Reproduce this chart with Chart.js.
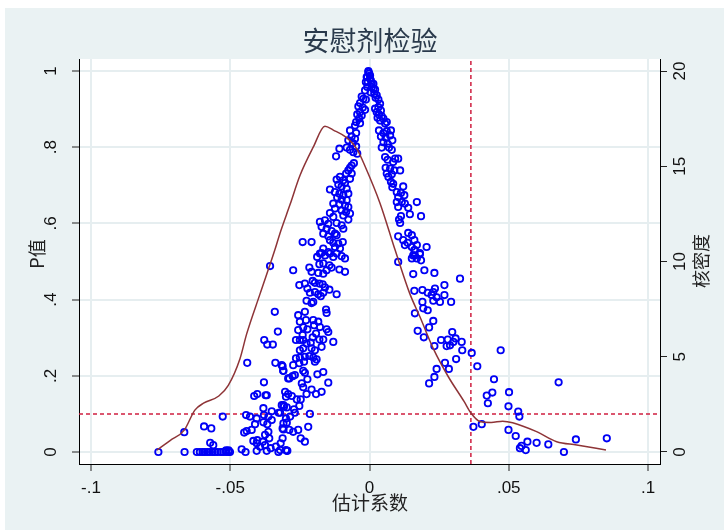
<!DOCTYPE html>
<html>
<head>
<meta charset="utf-8">
<title>安慰剂检验</title>
<script src="https://cdn.jsdelivr.net/npm/chart.js@4.4.0/dist/chart.umd.min.js"></script>
<style>
    html, body { margin: 0; padding: 0; background: #ffffff; }
    #wrap { width: 724px; height: 530px; }
</style>
</head>
<body>
<div id="wrap"><canvas id="placeboChart" width="724" height="530"></canvas></div>
<script>
// placebo estimates: coefficient (x) and its p value (y)
const coefX = [
    // left tail
    -0.0758,-0.0664,-0.0665,-0.0594,-0.0568,-0.0527,-0.0572,-0.0561,
    -0.0620,-0.0609,-0.0599,-0.0591,-0.0582,-0.0573,-0.0563,-0.0555,
    -0.0545,-0.0534,-0.0525,-0.0515,-0.0506,-0.0501,-0.0515,-0.0506,
    -0.0439,-0.0357,-0.0340,-0.0329,-0.0378,-0.0367,-0.0347,-0.0338,
    -0.0312,-0.0310,-0.0292,-0.0379,-0.0414,-0.0403,-0.0373,-0.0369,
    -0.0443,-0.0429,-0.0405,-0.0381,-0.0379,-0.0363,-0.0351,-0.0326,
    -0.0459,-0.0445,-0.0417,-0.0405,-0.0450,-0.0441,-0.0423,-0.0411,
    -0.0381,-0.0367,-0.0351,-0.0393,-0.0383,-0.0375,-0.0369,-0.0360,
    -0.0355,-0.0336,-0.0327,-0.0319,-0.0297,-0.0312,-0.0300,-0.0309,
    -0.0315,-0.0307,-0.0375,-0.0363,-0.0405,-0.0403,
    // left branch, lower half
    -0.0188,-0.0172,-0.0160,-0.0142,-0.0130,-0.0118,-0.0100,-0.0088,
    -0.0144,-0.0166,-0.0180,-0.0136,-0.0108,-0.0088,-0.0274,-0.0216,
    -0.0208,-0.0184,-0.0166,-0.0154,-0.0252,-0.0232,-0.0223,-0.0204,
    -0.0196,-0.0180,-0.0168,-0.0160,-0.0144,-0.0214,-0.0196,-0.0184,
    -0.0175,-0.0166,-0.0118,-0.0226,-0.0208,-0.0202,-0.0156,-0.0154,
    -0.0256,-0.0232,-0.0250,-0.0228,-0.0256,-0.0238,-0.0223,-0.0202,
    -0.0199,-0.0184,-0.0178,-0.0192,-0.0204,-0.0180,-0.0166,-0.0154,
    -0.0148,-0.0130,-0.0240,-0.0250,-0.0238,-0.0226,-0.0211,-0.0208,
    -0.0238,-0.0250,-0.0264,-0.0196,-0.0172,-0.0264,-0.0250,-0.0232,
    -0.0216,-0.0202,-0.0196,-0.0190,-0.0274,-0.0252,-0.0235,-0.0315,
    -0.0309,-0.0288,-0.0276,-0.0268,-0.0238,-0.0232,-0.0223,-0.0187,
    -0.0166,-0.0148,-0.0243,-0.0238,-0.0226,-0.0208,-0.0192,-0.0172,
    -0.0303,-0.0292,-0.0279,-0.0300,-0.0261,-0.0247,-0.0252,-0.0271,
    -0.0268,-0.0309,-0.0297,-0.0321,-0.0214,-0.0285,-0.0297,-0.0220,
    -0.0309,-0.0288,-0.0274,-0.0256,-0.0312,-0.0247,-0.0232,-0.0321,
    -0.0300,-0.0295,
    // left branch, upper half and peak
    -0.0004,-0.0001,-0.0008, 0.0002,-0.0013, 0.0008,-0.0008,-0.0016,
     0.0014, 0.0004,-0.0028,-0.0022,-0.0013,-0.0034,-0.0040,-0.0024,
    -0.0016,-0.0034,-0.0044,-0.0028,-0.0037,-0.0048,-0.0034,-0.0052,
    -0.0070,-0.0048,-0.0064,-0.0052,-0.0076,-0.0060,-0.0048,-0.0082,
    -0.0070,-0.0058,-0.0044,-0.0108,-0.0120,-0.0056,-0.0064,-0.0070,
    -0.0076,-0.0084,-0.0064,-0.0106,-0.0118,-0.0094,-0.0070,-0.0112,
    -0.0100,-0.0082,-0.0088,-0.0142,-0.0124,-0.0108,-0.0094,-0.0076,
    -0.0116,-0.0100,-0.0082,-0.0130,-0.0108,-0.0088,-0.0076,-0.0124,
    -0.0100,-0.0084,-0.0070,-0.0142,-0.0094,-0.0076,-0.0178,-0.0160,
    -0.0148,-0.0130,-0.0118,-0.0172,-0.0154,-0.0136,-0.0124,-0.0166,
    -0.0148,-0.0100,-0.0094,-0.0118,-0.0142,-0.0130,-0.0112,-0.0096,
    -0.0124,-0.0106,-0.0166,-0.0148,-0.0178,-0.0240,-0.0208,
    // right branch, upper half
    -0.0004, 0.0002,-0.0010, 0.0005,-0.0006, 0.0014, 0.0008, 0.0020,
     0.0017, 0.0026, 0.0022, 0.0032, 0.0038, 0.0032, 0.0020, 0.0041,
     0.0026, 0.0034, 0.0044, 0.0029, 0.0038, 0.0050, 0.0062, 0.0056,
     0.0034, 0.0050, 0.0062, 0.0077, 0.0041, 0.0058, 0.0074, 0.0082,
     0.0050, 0.0065, 0.0044, 0.0070, 0.0080, 0.0056, 0.0065, 0.0092,
     0.0103, 0.0085, 0.0058, 0.0074, 0.0089, 0.0110, 0.0062, 0.0080,
     0.0068, 0.0077, 0.0085, 0.0082, 0.0121, 0.0098, 0.0113, 0.0103,
     0.0125, 0.0098, 0.0116, 0.0127, 0.0139, 0.0103, 0.0113, 0.0106,
     0.0110, 0.0170, 0.0145, 0.0185, 0.0103, 0.0139, 0.0152, 0.0121,
     0.0137, 0.0161, 0.0170, 0.0152, 0.0127, 0.0163, 0.0181, 0.0205,
     0.0157, 0.0170,
    // right branch, lower half
     0.0103, 0.0152, 0.0163, 0.0181, 0.0161, 0.0185, 0.0157, 0.0197,
     0.0233, 0.0325, 0.0161, 0.0190, 0.0209, 0.0229, 0.0235, 0.0223,
     0.0241, 0.0253, 0.0229, 0.0269, 0.0269, 0.0293, 0.0190, 0.0193,
     0.0209, 0.0163, 0.0229, 0.0214, 0.0173, 0.0195, 0.0233, 0.0257,
     0.0281, 0.0297, 0.0289, 0.0277, 0.0301, 0.0309, 0.0331, 0.0333,
     0.0271, 0.0311, 0.0285, 0.0241, 0.0233, 0.0214,
    // right tail
     0.0367, 0.0471, 0.0387, 0.0447, 0.0679, 0.0421, 0.0441, 0.0425,
     0.0501, 0.0499, 0.0534, 0.0538, 0.0373, 0.0403, 0.0499, 0.0525,
     0.0567, 0.0600, 0.0642, 0.0546, 0.0540, 0.0561, 0.0698, 0.0741,
     0.0852
];

const pValue = [
    // left tail
    0, 0, 0.052, 0.067, 0.062, 0.093, 0.024, 0.018,
    0, 0, 0, 0, 0, 0, 0, 0,
    0, 0, 0, 0, 0, 0, 0.004, 0.004,
    0.234, 0.488, 0.368, 0.316, 0.294, 0.282, 0.282, 0.234,
    0.225, 0.213, 0.193, 0.183, 0.147, 0.152, 0.149, 0.149,
    0.097, 0.093, 0.088, 0.115, 0.097, 0.093, 0.107, 0.103,
    0.007, 0, 0.029, 0.003, 0.051, 0.055, 0.058, 0.073,
    0.078, 0.073, 0.084, 0.014, 0.027, 0.018, 0.003, 0.036,
    0.010, 0.014, 0, 0.023, 0.003, 0.062, 0.088, 0.075,
    0.123, 0.119, 0.045, 0.053, 0.023, 0.031,
    // left branch, lower half
    0.512, 0.522, 0.516, 0.521, 0.512, 0.521, 0.514, 0.508,
    0.490, 0.495, 0.493, 0.484, 0.479, 0.473, 0.477, 0.484,
    0.473, 0.470, 0.468, 0.477, 0.438, 0.442, 0.429, 0.449,
    0.444, 0.442, 0.440, 0.432, 0.426, 0.418, 0.420, 0.414,
    0.409, 0.418, 0.414, 0.397, 0.391, 0.394, 0.374, 0.365,
    0.359, 0.368, 0.342, 0.346, 0.320, 0.327, 0.322, 0.346,
    0.333, 0.342, 0.328, 0.311, 0.301, 0.295, 0.295, 0.322,
    0.315, 0.289, 0.307, 0.294, 0.294, 0.285, 0.287, 0.272,
    0.272, 0.267, 0.294, 0.267, 0.276, 0.246, 0.248, 0.250,
    0.252, 0.248, 0.237, 0.243, 0.228, 0.233, 0.237, 0.228,
    0.213, 0.193, 0.199, 0.202, 0.213, 0.208, 0.191, 0.204,
    0.210, 0.182, 0.180, 0.170, 0.152, 0.164, 0.152, 0.158,
    0.158, 0.152, 0.147, 0.145, 0.138, 0.138, 0.121, 0.112,
    0.103, 0.123, 0.117, 0.103, 0.100, 0.093, 0.077, 0.066,
    0.059, 0.058, 0.053, 0.058, 0.036, 0.036, 0.027, 0.005,
    0.005, 0.003,
    // left branch, upper half and peak
    1.000, 0.993, 0.984, 0.980, 0.971, 0.966, 0.958, 0.949,
    0.953, 0.944, 0.933, 0.927, 0.925, 0.916, 0.907, 0.904,
    0.898, 0.892, 0.886, 0.883, 0.875, 0.866, 0.863, 0.857,
    0.844, 0.837, 0.828, 0.822, 0.818, 0.811, 0.802, 0.799,
    0.793, 0.787, 0.783, 0.796, 0.776, 0.758, 0.752, 0.746,
    0.739, 0.731, 0.731, 0.722, 0.715, 0.713, 0.717, 0.702,
    0.697, 0.691, 0.706, 0.689, 0.682, 0.678, 0.674, 0.678,
    0.668, 0.662, 0.661, 0.652, 0.650, 0.647, 0.643, 0.639,
    0.634, 0.630, 0.626, 0.627, 0.621, 0.610, 0.604, 0.608,
    0.599, 0.617, 0.601, 0.591, 0.586, 0.580, 0.573, 0.573,
    0.566, 0.595, 0.586, 0.569, 0.556, 0.549, 0.547, 0.551,
    0.538, 0.534, 0.534, 0.525, 0.521, 0.551, 0.551,
    // right branch, upper half
    0.997, 0.988, 0.984, 0.975, 0.971, 0.966, 0.958, 0.951,
    0.940, 0.936, 0.930, 0.925, 0.914, 0.905, 0.901, 0.896,
    0.892, 0.886, 0.881, 0.877, 0.870, 0.875, 0.866, 0.862,
    0.844, 0.837, 0.842, 0.844, 0.828, 0.825, 0.831, 0.818,
    0.813, 0.809, 0.799, 0.799, 0.793, 0.774, 0.767, 0.770,
    0.770, 0.761, 0.746, 0.744, 0.739, 0.739, 0.731, 0.729,
    0.722, 0.709, 0.704, 0.695, 0.697, 0.682, 0.680, 0.669,
    0.674, 0.656, 0.656, 0.652, 0.641, 0.643, 0.619, 0.610,
    0.601, 0.656, 0.624, 0.619, 0.566, 0.575, 0.569, 0.556,
    0.549, 0.556, 0.543, 0.538, 0.543, 0.530, 0.522, 0.538,
    0.516, 0.508,
    // right branch, lower half
    0.499, 0.508, 0.516, 0.519, 0.530, 0.503, 0.467, 0.477,
    0.470, 0.455, 0.423, 0.425, 0.418, 0.420, 0.429, 0.412,
    0.406, 0.394, 0.397, 0.438, 0.412, 0.394, 0.394, 0.377,
    0.372, 0.364, 0.344, 0.327, 0.318, 0.301, 0.278, 0.294,
    0.295, 0.315, 0.280, 0.278, 0.289, 0.298, 0.289, 0.267,
    0.234, 0.244, 0.218, 0.218, 0.197, 0.180,
    // right tail
    0.260, 0.267, 0.225, 0.191, 0.183, 0.148, 0.156, 0.128,
    0.157, 0.120, 0.106, 0.093, 0.066, 0.073, 0.058, 0.042,
    0.027, 0.024, 0.020, 0.016, 0.010, 0.005, 0, 0.033,
    0.036
];

// kernel density of the placebo coefficients (right axis)
const densityX = [-0.0763, -0.0716, -0.0665, -0.0627, -0.0596, -0.0541, -0.0507, -0.0465, -0.0441,
    -0.0393, -0.0340, -0.0321, -0.0285, -0.0250, -0.0202, -0.0160, -0.0130, -0.0082, -0.0045,
    -0.0016, 0.0038, 0.0092, 0.0145, 0.0181, 0.0230, 0.0283, 0.0340, 0.0364, 0.0397, 0.0437,
    0.0478, 0.0514, 0.0600, 0.0672, 0.0744, 0.0849];
const densityY = [0.1, 0.6, 1.15, 2.2, 2.56, 2.94, 3.5, 4.9, 6.2,
    8.3, 10.6, 11.5, 13.0, 14.5, 16.0, 17.1, 16.9, 16.5, 15.9,
    15.0, 13.05, 10.6, 8.3, 7.1, 5.4, 3.95, 2.64, 2.05, 1.6, 1.55,
    1.62, 1.54, 1.07, 0.54, 0.37, 0.1];

// reference lines
const pThreshold = 0.1;
const trueCoef = 0.0364;

// axes
const xTicks = [-0.1, -0.05, 0, 0.05, 0.1];
const xTickLabels = ['-.1', '-.05', '0', '.05', '.1'];
const pTicks = [0, 0.2, 0.4, 0.6, 0.8, 1];
const pTickLabels = ['0', '.2', '.4', '.6', '.8', '1'];
const densTicks = [0, 5, 10, 15, 20];
const densTickLabels = ['0', '5', '10', '15', '20'];
const xMin = -0.1043, xMax = 0.1043;
const pMin = -0.0315, pMax = 1.0315;
const densMin = -0.63, densMax = 20.63;

const numFont = '17px "Liberation Sans", Arial, sans-serif';
const cjkFont = '"Noto Sans CJK SC", sans-serif';

function rotatedText(ctx, text, x, y) {
    ctx.save();
    ctx.translate(x, y);
    ctx.rotate(-Math.PI / 2);
    ctx.fillText(text, 0, 0);
    ctx.restore();
}

const decoPlugin = {
    id: 'deco',
    beforeDraw(chart) {
        const ctx = chart.ctx;
        const a = chart.chartArea;
        ctx.save();
        ctx.fillStyle = '#ffffff';
        ctx.fillRect(0, 0, chart.width, chart.height);
        ctx.fillStyle = '#eaf2f3';
        ctx.fillRect(5, 8, chart.width - 5, chart.height - 8);
        ctx.fillStyle = '#ffffff';
        ctx.fillRect(a.left, a.top, a.right - a.left, a.bottom - a.top);
        ctx.restore();
    },
    afterDraw(chart) {
        const ctx = chart.ctx;
        const sx = chart.scales.x, sy = chart.scales.y, sd = chart.scales.y2;
        ctx.save();
        ctx.fillStyle = '#111111';
        ctx.textAlign = 'center';
        ctx.textBaseline = 'middle';
        ctx.font = numFont;

        xTicks.forEach((v, i) => ctx.fillText(xTickLabels[i], sx.getPixelForValue(v), 488));
        pTicks.forEach((v, i) => rotatedText(ctx, pTickLabels[i], 51, sy.getPixelForValue(v)));
        densTicks.forEach((v, i) => rotatedText(ctx, densTickLabels[i], 680, sd.getPixelForValue(v)));

        ctx.fillStyle = '#222222';
        ctx.font = '18px ' + cjkFont;
        rotatedText(ctx, 'P值', 37, 254);
        rotatedText(ctx, '核密度', 701, 261);
        ctx.font = '19px ' + cjkFont;
        ctx.fillText('估计系数', 370, 503);

        ctx.fillStyle = '#2a3a4c';
        ctx.font = '27px ' + cjkFont;
        ctx.fillText('安慰剂检验', 370, 41);
        ctx.restore();
    }
};

const gridStyle = { color: '#e6eef0', lineWidth: 2, tickLength: 7, tickColor: '#222222', tickWidth: 1 };
const borderStyle = { display: true, color: '#000000', width: 1 };

const canvas = document.getElementById('placeboChart');
const chart = new Chart(canvas, {
    type: 'scatter',
    data: {
        datasets: [
            {
                label: '核密度',
                data: densityX.map((x, i) => ({ x: x, y: densityY[i] })),
                yAxisID: 'y2',
                showLine: true,
                borderColor: '#8e3437',
                borderWidth: 1.5,
                pointRadius: 0,
                cubicInterpolationMode: 'monotone',
                order: 0
            },
            {
                label: 'P值',
                data: coefX.map((x, i) => ({ x: x, y: pValue[i] })),
                yAxisID: 'y',
                pointRadius: 3.2,
                borderWidth: 1.8,
                borderColor: '#0000f5',
                backgroundColor: 'rgba(0,0,0,0)',
                order: 1
            },
            {
                label: 'p=0.1',
                data: [{ x: xMin, y: pThreshold }, { x: xMax, y: pThreshold }],
                yAxisID: 'y',
                showLine: true,
                borderColor: '#cf1f40',
                borderWidth: 1.5,
                borderDash: [4, 3],
                pointRadius: 0,
                order: 2
            },
            {
                label: 'true',
                data: [{ x: trueCoef, y: pMin }, { x: trueCoef, y: pMax }],
                yAxisID: 'y',
                showLine: true,
                borderColor: '#cf1f40',
                borderWidth: 1.5,
                borderDash: [4, 3],
                pointRadius: 0,
                order: 2
            }
        ]
    },
    options: {
        responsive: false,
        animation: false,
        devicePixelRatio: 1,
        layout: { padding: { top: 59, left: 0, right: 0, bottom: 0 } },
        plugins: { legend: { display: false }, tooltip: { enabled: false }, title: { display: false } },
        scales: {
            x: {
                type: 'linear',
                min: xMin,
                max: xMax,
                afterBuildTicks: s => { s.ticks = xTicks.map(v => ({ value: v })); },
                afterFit: s => { s.height = 66; },
                ticks: { display: false },
                grid: gridStyle,
                border: borderStyle
            },
            y: {
                type: 'linear',
                position: 'left',
                min: pMin,
                max: pMax,
                afterBuildTicks: s => { s.ticks = pTicks.map(v => ({ value: v })); },
                afterFit: s => { s.width = 79; },
                ticks: { display: false },
                grid: gridStyle,
                border: borderStyle
            },
            y2: {
                type: 'linear',
                position: 'right',
                min: densMin,
                max: densMax,
                afterBuildTicks: s => { s.ticks = densTicks.map(v => ({ value: v })); },
                afterFit: s => { s.width = 64; },
                ticks: { display: false },
                grid: { drawOnChartArea: false, color: '#e6eef0', tickLength: 7, tickColor: '#222222', tickWidth: 1 },
                border: borderStyle
            }
        }
    },
    plugins: [decoPlugin]
});
</script>
</body>
</html>
